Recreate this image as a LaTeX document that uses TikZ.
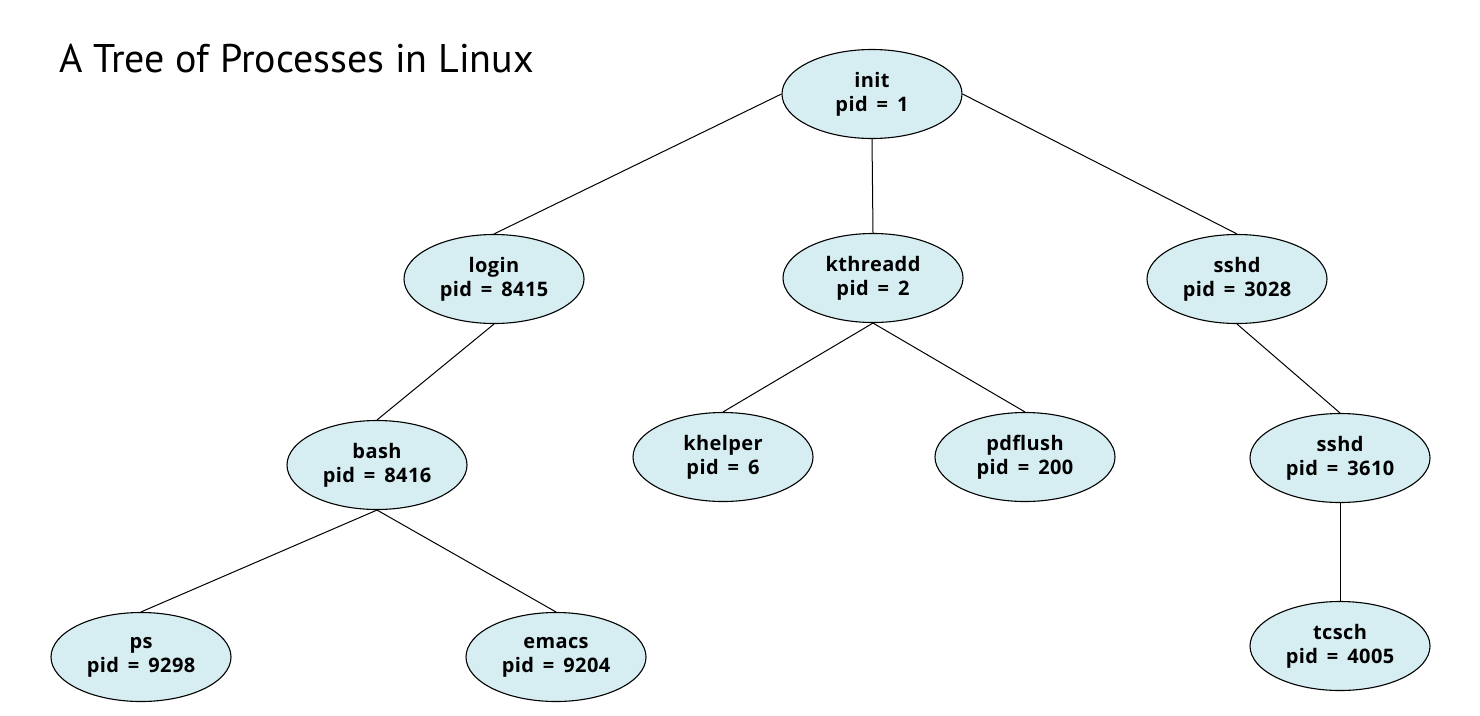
\documentclass[tikz,border=0pt]{standalone}
\usepackage{fontspec}
\setmainfont{Open Sans}
\newfontfamily\procfont[LetterSpace=2]{Open Sans}
\newfontfamily\titlefont{PT Sans}
\usetikzlibrary{shapes.geometric}
\definecolor{procfill}{RGB}{214,238,242}
\newcommand{\pideq}{pid\hspace{0.45em}=\hspace{0.45em}}
\begin{document}
\begin{tikzpicture}[x=1pt,y=-1pt,
  proc/.style={ellipse,draw=black,line width=1.1pt,fill=procfill,
    minimum width=180pt,minimum height=89pt,inner sep=0pt,align=center,
    font=\procfont\fontsize{20}{24}\selectfont\bfseries},
  link/.style={draw=black,line width=1pt}]
\useasboundingbox (0,0) rectangle (1480,715);
\node[anchor=base west,inner sep=0pt,font=\titlefont\fontsize{40}{48}\selectfont] (title) at (59,72) {A Tree of Processes in Linux};
\node[proc] (init) at (872,94) {init\\\pideq 1};
\node[proc] (login) at (494,279) {login\\\pideq 8415};
\node[proc] (kthreadd) at (873,278) {kthreadd\\\pideq 2};
\node[proc] (sshd1) at (1237,279) {sshd\\\pideq 3028};
\node[proc] (bash) at (377,465) {bash\\\pideq 8416};
\node[proc] (khelper) at (723,457) {khelper\\\pideq 6};
\node[proc] (pdflush) at (1025,457) {pdflush\\\pideq 200};
\node[proc] (sshd2) at (1340,458) {sshd\\\pideq 3610};
\node[proc] (ps) at (141,657) {ps\\\pideq 9298};
\node[proc] (emacs) at (556,657) {emacs\\\pideq 9204};
\node[proc] (tcsch) at (1340,646) {tcsch\\\pideq 4005};
\draw[link] (init.west) -- (login.north);
\draw[link] (init.south) -- (kthreadd.north);
\draw[link] (init.east) -- (sshd1.north);
\draw[link] (login.south) -- (bash.north);
\draw[link] (kthreadd.south) -- (khelper.north);
\draw[link] (kthreadd.south) -- (pdflush.north);
\draw[link] (sshd1.south) -- (sshd2.north);
\draw[link] (sshd2.south) -- (tcsch.north);
\draw[link] (bash.south) -- (ps.north);
\draw[link] (bash.south) -- (emacs.north);
\end{tikzpicture}
\end{document}
